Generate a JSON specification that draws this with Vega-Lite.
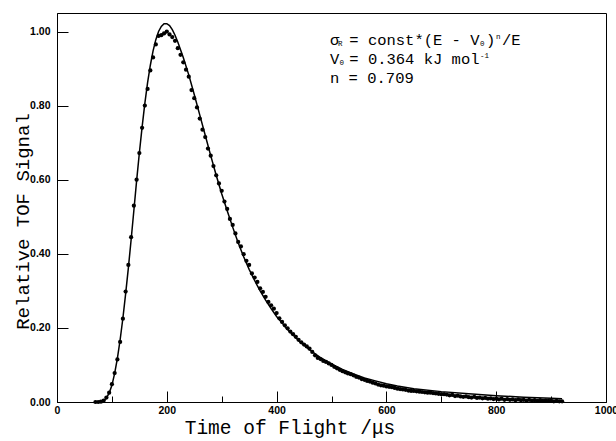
{
  "$schema": "https://vega.github.io/schema/vega-lite/v6.json",
  "autosize": {"type": "none"},
  "padding": {"left": 57, "top": 13, "right": 10, "bottom": 39},
  "width": 549,
  "height": 389,
  "background": "white",
  "config": {
    "view": {"stroke": "black", "strokeWidth": 1},
    "axis": {"grid": false, "domainColor": "black", "tickColor": "black", "labelColor": "black", "titleColor": "black"}
  },
  "datasets": {
    "obs": [
      {"t":70,"v":0.000},{"t":75,"v":0.000},{"t":80,"v":0.001},{"t":85,"v":0.004},{"t":90,"v":0.012},{"t":95,"v":0.025},
      {"t":100,"v":0.048},{"t":105,"v":0.078},{"t":110,"v":0.115},{"t":115,"v":0.162},{"t":120,"v":0.225},{"t":125,"v":0.298},
      {"t":130,"v":0.370},{"t":135,"v":0.445},{"t":140,"v":0.530},{"t":145,"v":0.600},{"t":150,"v":0.672},{"t":155,"v":0.740},
      {"t":160,"v":0.800},{"t":165,"v":0.845},{"t":170,"v":0.895},{"t":175,"v":0.930},{"t":180,"v":0.965},{"t":185,"v":0.988},
      {"t":190,"v":0.990},{"t":195,"v":0.995},{"t":200,"v":1.000},{"t":205,"v":0.992},{"t":210,"v":0.985},{"t":215,"v":0.975},
      {"t":220,"v":0.955},{"t":225,"v":0.937},{"t":230,"v":0.917},{"t":235,"v":0.897},{"t":240,"v":0.878},{"t":245,"v":0.842},
      {"t":250,"v":0.820},{"t":255,"v":0.795},{"t":260,"v":0.765},{"t":265,"v":0.735},{"t":270,"v":0.715},{"t":275,"v":0.684},
      {"t":280,"v":0.665},{"t":285,"v":0.637},{"t":290,"v":0.612},{"t":295,"v":0.590},{"t":300,"v":0.570},{"t":305,"v":0.541},
      {"t":310,"v":0.521},{"t":315,"v":0.494},{"t":320,"v":0.478},{"t":325,"v":0.455},{"t":330,"v":0.432},{"t":335,"v":0.420},
      {"t":340,"v":0.399},{"t":345,"v":0.381},{"t":350,"v":0.370},{"t":355,"v":0.347},{"t":360,"v":0.336},{"t":365,"v":0.324},
      {"t":370,"v":0.307},{"t":375,"v":0.297},{"t":380,"v":0.284},{"t":385,"v":0.270},{"t":390,"v":0.261},{"t":395,"v":0.252},
      {"t":400,"v":0.240},{"t":405,"v":0.226},{"t":410,"v":0.216},{"t":415,"v":0.207},{"t":420,"v":0.199},{"t":425,"v":0.190},
      {"t":430,"v":0.183},{"t":435,"v":0.176},{"t":440,"v":0.168},{"t":445,"v":0.161},{"t":450,"v":0.155},{"t":455,"v":0.150},
      {"t":460,"v":0.144},{"t":465,"v":0.135},{"t":470,"v":0.126},{"t":475,"v":0.119},{"t":480,"v":0.116},{"t":485,"v":0.111},
      {"t":490,"v":0.108},{"t":495,"v":0.104},{"t":500,"v":0.100},{"t":505,"v":0.095},{"t":510,"v":0.091},{"t":515,"v":0.087},
      {"t":520,"v":0.083},{"t":525,"v":0.080},{"t":530,"v":0.077},{"t":535,"v":0.075},{"t":540,"v":0.072},{"t":545,"v":0.068},
      {"t":550,"v":0.066},{"t":555,"v":0.062},{"t":560,"v":0.060},{"t":565,"v":0.057},{"t":570,"v":0.055},{"t":575,"v":0.052},
      {"t":580,"v":0.050},{"t":585,"v":0.047},{"t":590,"v":0.045},{"t":595,"v":0.044},{"t":600,"v":0.042},{"t":605,"v":0.041},
      {"t":610,"v":0.040},{"t":615,"v":0.038},{"t":620,"v":0.036},{"t":625,"v":0.035},{"t":630,"v":0.034},{"t":635,"v":0.033},
      {"t":640,"v":0.031},{"t":645,"v":0.030},{"t":650,"v":0.030},{"t":655,"v":0.029},{"t":660,"v":0.028},{"t":665,"v":0.027},
      {"t":670,"v":0.026},{"t":675,"v":0.025},{"t":680,"v":0.025},{"t":685,"v":0.024},{"t":690,"v":0.023},{"t":695,"v":0.022},
      {"t":700,"v":0.021},{"t":705,"v":0.021},{"t":710,"v":0.020},{"t":715,"v":0.018},{"t":720,"v":0.019},{"t":725,"v":0.016},
      {"t":730,"v":0.017},{"t":735,"v":0.015},{"t":740,"v":0.014},{"t":745,"v":0.015},{"t":750,"v":0.013},{"t":755,"v":0.012},
      {"t":760,"v":0.014},{"t":765,"v":0.011},{"t":770,"v":0.012},{"t":775,"v":0.010},{"t":780,"v":0.011},{"t":785,"v":0.009},
      {"t":790,"v":0.010},{"t":795,"v":0.008},{"t":800,"v":0.009},{"t":805,"v":0.007},{"t":810,"v":0.009},{"t":815,"v":0.006},
      {"t":820,"v":0.008},{"t":825,"v":0.006},{"t":830,"v":0.007},{"t":835,"v":0.005},{"t":840,"v":0.007},{"t":845,"v":0.005},
      {"t":850,"v":0.006},{"t":855,"v":0.004},{"t":860,"v":0.006},{"t":865,"v":0.004},{"t":870,"v":0.005},{"t":875,"v":0.003},
      {"t":880,"v":0.005},{"t":885,"v":0.003},{"t":890,"v":0.004},{"t":895,"v":0.003},{"t":900,"v":0.004},{"t":905,"v":0.002},
      {"t":910,"v":0.003},{"t":915,"v":0.002},{"t":920,"v":0.002}
    ],
    "fit": [
      {"t":70,"v":0},{"t":80,"v":0.001},{"t":85,"v":0.004},{"t":90,"v":0.011},{"t":95,"v":0.024},{"t":100,"v":0.045},
      {"t":105,"v":0.077},{"t":110,"v":0.118},{"t":115,"v":0.168},{"t":120,"v":0.226},{"t":125,"v":0.292},{"t":130,"v":0.362},
      {"t":135,"v":0.438},{"t":140,"v":0.517},{"t":145,"v":0.597},{"t":150,"v":0.672},{"t":155,"v":0.742},{"t":160,"v":0.806},
      {"t":165,"v":0.862},{"t":170,"v":0.909},{"t":175,"v":0.948},{"t":180,"v":0.978},{"t":185,"v":1.000},{"t":190,"v":1.014},
      {"t":195,"v":1.021},{"t":200,"v":1.021},{"t":205,"v":1.016},{"t":210,"v":1.005},{"t":215,"v":0.990},{"t":220,"v":0.972},
      {"t":230,"v":0.930},{"t":240,"v":0.883},{"t":250,"v":0.830},{"t":260,"v":0.775},{"t":270,"v":0.720},{"t":280,"v":0.665},
      {"t":290,"v":0.612},{"t":300,"v":0.562},{"t":310,"v":0.516},{"t":320,"v":0.472},{"t":330,"v":0.430},{"t":340,"v":0.392},
      {"t":350,"v":0.358},{"t":360,"v":0.328},{"t":370,"v":0.300},{"t":380,"v":0.275},{"t":390,"v":0.252},{"t":400,"v":0.231},
      {"t":420,"v":0.196},{"t":440,"v":0.166},{"t":460,"v":0.141},{"t":480,"v":0.120},{"t":500,"v":0.103},{"t":520,"v":0.088},
      {"t":540,"v":0.076},{"t":560,"v":0.065},{"t":580,"v":0.057},{"t":600,"v":0.049},{"t":620,"v":0.043},{"t":650,"v":0.036},
      {"t":700,"v":0.028},{"t":750,"v":0.022},{"t":800,"v":0.017},{"t":850,"v":0.013},{"t":900,"v":0.010},{"t":920,"v":0.009}
    ],
    "mainText": [
      {"t":497.3,"v":0.9636,"s":"σ"},
      {"t":532.4,"v":0.9636,"s":"= const*(E - V"},
      {"t":781.4,"v":0.9636,"s":")"},
      {"t":810.6,"v":0.9636,"s":"/E"},
      {"t":497.3,"v":0.9115,"s":"V"},
      {"t":532.4,"v":0.9115,"s":"= 0.364 kJ mol"},
      {"t":497.3,"v":0.860,"s":"n = 0.709"}
    ],
    "subText": [
      {"t":511.8,"v":0.9636,"s":"R"},
      {"t":770.5,"v":0.9636,"s":"0"},
      {"t":514.6,"v":0.9115,"s":"0"}
    ],
    "supText": [
      {"t":799.6,"v":0.9636,"s":"n"},
      {"t":770.5,"v":0.9115,"s":"-1"}
    ]
  },
  "layer": [
    {
      "data": {"name": "fit"},
      "mark": {"type": "line", "color": "black", "strokeWidth": 1.5, "clip": true},
      "encoding": {
        "x": {
          "field": "t", "type": "quantitative",
          "scale": {"domain": [0, 1000], "nice": false, "zero": false},
          "axis": {
            "title": "Time of Flight /μs",
            "values": [0,50,100,150,200,250,300,350,400,450,500,550,600,650,700,750,800,850,900,950,1000],
            "labelExpr": "datum.value % 200 === 0 ? format(datum.value, 'd') : ''",
            "tickSize": {"condition": {"test": "datum.value % 200 === 0", "value": -11}, "value": -6},
            "labelPadding": 14,
            "labelFlush": false,
            "labelOverlap": false,
            "labelFont": "Liberation Sans",
            "labelFontWeight": "bold",
            "labelFontSize": 10.5,
            "titleFont": "Liberation Mono",
            "titleFontWeight": "normal",
            "titleFontSize": 19.5,
            "titleX": 232.5,
            "titleY": 31,
            "titleAlign": "center",
            "titleBaseline": "alphabetic"
          }
        },
        "y": {
          "field": "v", "type": "quantitative",
          "scale": {"domain": [0, 1.05], "nice": false, "zero": false},
          "axis": {
            "title": "Relative TOF Signal",
            "values": [0,0.05,0.1,0.15,0.2,0.25,0.3,0.35,0.4,0.45,0.5,0.55,0.6,0.65,0.7,0.75,0.8,0.85,0.9,0.95,1.0],
            "labelExpr": "abs(datum.value*5 - round(datum.value*5)) < 0.001 ? format(datum.value, '.2f') : ''",
            "tickSize": {"condition": {"test": "abs(datum.value*5 - round(datum.value*5)) < 0.001", "value": -11}, "value": -6},
            "labelPadding": 18,
            "labelFlush": false,
            "labelOverlap": false,
            "labelFont": "Liberation Sans",
            "labelFontWeight": "bold",
            "labelFontSize": 10.5,
            "titleFont": "Liberation Mono",
            "titleFontWeight": "normal",
            "titleFontSize": 19,
            "titleX": -29,
            "titleY": 208,
            "titleAngle": 270,
            "titleAlign": "center",
            "titleBaseline": "alphabetic"
          }
        }
      }
    },
    {
      "data": {"name": "obs"},
      "mark": {"type": "point", "filled": true, "color": "black", "size": 18, "opacity": 1},
      "encoding": {
        "x": {"field": "t", "type": "quantitative"},
        "y": {"field": "v", "type": "quantitative"}
      }
    },
    {
      "data": {"name": "mainText"},
      "mark": {"type": "text", "font": "Liberation Mono", "fontSize": 15.5, "align": "left", "baseline": "alphabetic", "color": "black"},
      "encoding": {
        "x": {"field": "t", "type": "quantitative"},
        "y": {"field": "v", "type": "quantitative"},
        "text": {"field": "s"}
      }
    },
    {
      "data": {"name": "subText"},
      "mark": {"type": "text", "font": "Liberation Mono", "fontSize": 7.5, "align": "left", "baseline": "alphabetic", "dy": 1, "color": "black"},
      "encoding": {
        "x": {"field": "t", "type": "quantitative"},
        "y": {"field": "v", "type": "quantitative"},
        "text": {"field": "s"}
      }
    },
    {
      "data": {"name": "supText"},
      "mark": {"type": "text", "font": "Liberation Mono", "fontSize": 7.5, "align": "left", "baseline": "alphabetic", "dy": -6, "color": "black"},
      "encoding": {
        "x": {"field": "t", "type": "quantitative"},
        "y": {"field": "v", "type": "quantitative"},
        "text": {"field": "s"}
      }
    }
  ]
}
